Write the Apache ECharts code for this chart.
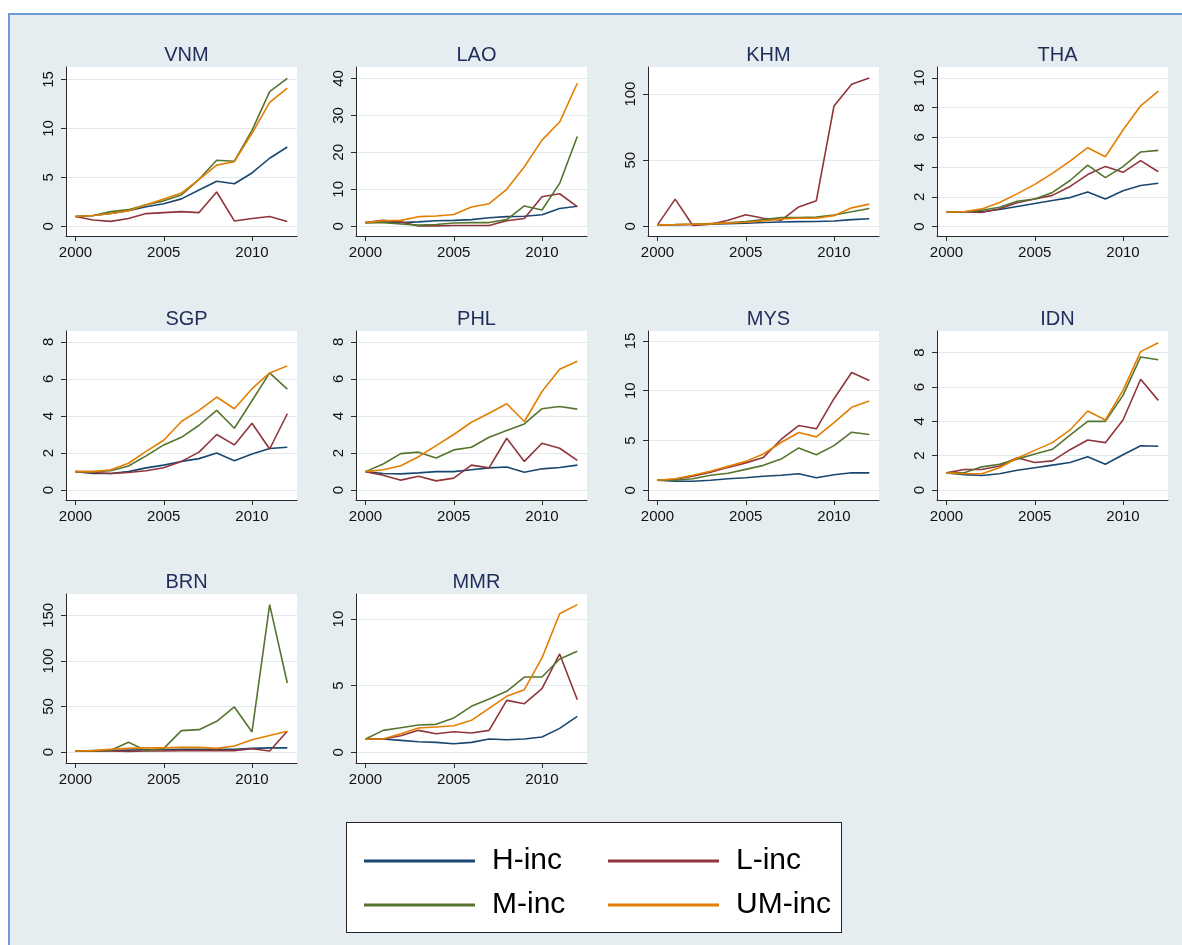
<!DOCTYPE html>
<html><head><meta charset="utf-8">
<script src="https://cdn.jsdelivr.net/npm/echarts@6/dist/echarts.min.js"></script>
<style>
html,body{margin:0;padding:0;background:#fff;width:1182px;height:945px;overflow:hidden;}
#frame{position:absolute;left:8px;top:13px;width:1200px;height:960px;background:#e6edf0;border:2px solid #6b9bd8;box-sizing:border-box;}
#legbox{position:absolute;left:346px;top:822px;width:496px;height:111px;background:#fff;border:1.5px solid #222;box-sizing:border-box;}
#chart{position:absolute;left:0;top:0;width:1182px;height:945px;}
</style></head><body>
<div id="frame"></div><div id="legbox"></div><div id="chart"></div>
<script>
const years = [2000,2001,2002,2003,2004,2005,2006,2007,2008,2009,2010,2011,2012];
const countries = ['VNM','LAO','KHM','THA','SGP','PHL','MYS','IDN','BRN','MMR'];
const groups = ['H-inc','L-inc','M-inc','UM-inc'];
const xTicks = [2000,2005,2010];

const VNM_H  = [1,1.1,1.3,1.6,2.0,2.3,2.8,3.7,4.6,4.35,5.45,6.95,8.1];
const VNM_L  = [1,0.65,0.5,0.8,1.3,1.4,1.5,1.4,3.5,0.55,0.8,1.0,0.5];
const VNM_M  = [1,1.1,1.5,1.7,2.2,2.6,3.2,4.8,6.75,6.65,9.8,13.75,15.1];
const VNM_UM = [1,1.1,1.3,1.6,2.2,2.8,3.4,4.8,6.25,6.6,9.5,12.65,14.1];

const LAO_H  = [1,1.2,1.0,1.2,1.5,1.6,1.8,2.3,2.6,2.7,3.1,4.8,5.4];
const LAO_L  = [1,1.6,1.2,0.1,0.1,0.2,0.2,0.2,1.5,2.1,8.0,8.8,5.3];
const LAO_M  = [1,1.0,0.6,0.3,0.5,0.9,1.0,1.0,1.8,5.5,4.4,11.6,24.3];
const LAO_UM = [1,1.5,1.6,2.6,2.8,3.2,5.2,6.1,10.0,16.1,23.3,28.2,38.7];

const KHM_H  = [1,1.1,1.3,1.5,2.0,2.3,2.8,3.2,3.5,3.6,4.0,5.0,5.7];
const KHM_L  = [1,20.5,0.5,1.5,4.5,8.7,6.0,4.5,14.6,19.3,91.0,107.5,112.2];
const KHM_M  = [1,1.2,1.5,2.0,2.5,3.5,5.0,6.5,6.5,7.0,8.5,11.0,13.4];
const KHM_UM = [1,1.2,1.5,1.8,2.5,3.0,4.0,5.5,6.0,6.0,8.0,13.9,16.7];

const THA_H  = [1,1.0,1.0,1.15,1.35,1.55,1.75,1.95,2.32,1.85,2.41,2.76,2.92];
const THA_L  = [1,1.0,0.95,1.2,1.6,1.85,2.1,2.7,3.5,4.05,3.65,4.44,3.69];
const THA_M  = [1,1.0,1.1,1.3,1.7,1.85,2.3,3.1,4.14,3.29,4.03,5.02,5.13];
const THA_UM = [1,1.0,1.19,1.62,2.2,2.84,3.58,4.41,5.31,4.7,6.5,8.13,9.12];

const SGP_H  = [1,0.9,0.9,1.0,1.2,1.35,1.55,1.7,2.0,1.59,1.95,2.25,2.31];
const SGP_L  = [1,0.95,0.9,0.95,1.05,1.21,1.55,2.05,3.0,2.44,3.61,2.22,4.12];
const SGP_M  = [1,1.0,1.05,1.3,1.85,2.44,2.85,3.5,4.3,3.34,4.82,6.32,5.45];
const SGP_UM = [1,1.0,1.1,1.45,2.09,2.69,3.7,4.3,5.02,4.39,5.47,6.32,6.7];

const PHL_H  = [1,0.9,0.88,0.93,1.0,1.0,1.1,1.2,1.25,0.97,1.15,1.22,1.35];
const PHL_L  = [1,0.8,0.54,0.75,0.5,0.65,1.35,1.2,2.8,1.55,2.53,2.26,1.61];
const PHL_M  = [1,1.41,1.97,2.05,1.73,2.17,2.31,2.85,3.21,3.57,4.39,4.51,4.37];
const PHL_UM = [1,1.1,1.32,1.8,2.4,3.0,3.66,4.15,4.66,3.7,5.32,6.52,6.95];

const MYS_H  = [1,0.9,0.9,1.0,1.15,1.25,1.4,1.5,1.65,1.25,1.55,1.75,1.75];
const MYS_L  = [1,1.1,1.4,1.8,2.3,2.75,3.3,5.1,6.5,6.17,9.2,11.83,11.02];
const MYS_M  = [1,1.0,1.15,1.5,1.7,2.1,2.5,3.13,4.25,3.57,4.48,5.83,5.6];
const MYS_UM = [1,1.15,1.5,1.9,2.4,2.9,3.64,4.8,5.8,5.36,6.8,8.33,8.97];

const IDN_H  = [1,0.9,0.85,0.95,1.15,1.3,1.45,1.6,1.94,1.5,2.05,2.58,2.55];
const IDN_L  = [1,1.2,1.2,1.4,1.88,1.6,1.7,2.35,2.91,2.76,4.08,6.45,5.22];
const IDN_M  = [1,1.0,1.35,1.5,1.8,2.1,2.37,3.2,4.0,4.0,5.51,7.75,7.59];
const IDN_UM = [1,0.95,0.95,1.3,1.85,2.31,2.76,3.5,4.6,4.08,5.8,8.06,8.58];

const BRN_H  = [1,1.2,1.5,2.0,2.5,2.5,3.0,3.0,3.0,3.0,4.0,4.5,4.5];
const BRN_L  = [1,1.0,1.0,0.5,1.0,1.0,1.5,1.5,1.5,1.5,3.5,1.0,22.7];
const BRN_M  = [1,1.5,2.0,10.6,1.5,4.0,23.4,24.5,33.7,49.4,22.0,161.7,75.7];
const BRN_UM = [1,1.5,3.0,4.0,4.5,4.5,5.0,5.0,4.0,6.5,13.5,18.0,22.7];

const MMR_H  = [1,1.0,0.9,0.8,0.75,0.65,0.75,1.0,0.95,1.0,1.15,1.8,2.7];
const MMR_L  = [1,1.0,1.25,1.65,1.4,1.55,1.45,1.65,3.9,3.65,4.78,7.38,3.95];
const MMR_M  = [1,1.65,1.85,2.05,2.1,2.58,3.45,4.0,4.58,5.65,5.65,7.0,7.58];
const MMR_UM = [1,1.0,1.4,1.83,1.9,2.0,2.4,3.3,4.2,4.7,7.08,10.4,11.08];

const VNM_TICKS = [0,5,10,15];
const LAO_TICKS = [0,10,20,30,40];
const KHM_TICKS = [0,50,100];
const THA_TICKS = [0,2,4,6,8,10];
const SGP_TICKS = [0,2,4,6,8];
const PHL_TICKS = [0,2,4,6,8];
const MYS_TICKS = [0,5,10,15];
const IDN_TICKS = [0,2,4,6,8];
const BRN_TICKS = [0,50,100,150];
const MMR_TICKS = [0,5,10];

const seriesData = {
  VNM:[VNM_H,VNM_L,VNM_M,VNM_UM], LAO:[LAO_H,LAO_L,LAO_M,LAO_UM],
  KHM:[KHM_H,KHM_L,KHM_M,KHM_UM], THA:[THA_H,THA_L,THA_M,THA_UM],
  SGP:[SGP_H,SGP_L,SGP_M,SGP_UM], PHL:[PHL_H,PHL_L,PHL_M,PHL_UM],
  MYS:[MYS_H,MYS_L,MYS_M,MYS_UM], IDN:[IDN_H,IDN_L,IDN_M,IDN_UM],
  BRN:[BRN_H,BRN_L,BRN_M,BRN_UM], MMR:[MMR_H,MMR_L,MMR_M,MMR_UM]
};
const tickData = {VNM:VNM_TICKS,LAO:LAO_TICKS,KHM:KHM_TICKS,THA:THA_TICKS,SGP:SGP_TICKS,
  PHL:PHL_TICKS,MYS:MYS_TICKS,IDN:IDN_TICKS,BRN:BRN_TICKS,MMR:MMR_TICKS};

// layout (pixels / axis extents)
const colLeft = [66,356,648,937];
const rowTop = [67,331,594];
const gridW = 231, gridH = 169;
const yRange = {
  VNM:[-0.99,16.27], LAO:[-2.63,43.1], KHM:[-7.4,120.5], THA:[-0.635,10.74],
  SGP:[-0.53,8.58], PHL:[-0.53,8.58], MYS:[-0.98,16.0], IDN:[-0.58,9.26],
  BRN:[-12.1,173.4], MMR:[-0.8,11.88]
};
const colors = ['#1a476f','#90353b','#55752f','#e37e00'];
const FONT = "'Liberation Sans', Arial, sans-serif";
const axisColor = '#2b2b2b';

const grids = [], xAxes = [], yAxes = [], series = [], titles = [];
countries.forEach((c, i) => {
  const col = i % 4, row = Math.floor(i / 4);
  const left = colLeft[col], top = rowTop[row];
  grids.push({left:left, top:top, width:gridW, height:gridH, show:true,
    backgroundColor:'#ffffff', borderWidth:0, containLabel:false});
  titles.push({text:c, left:left + gridW/2, top:top - 27, textAlign:'center',
    textStyle:{fontFamily:FONT, fontSize:20, fontWeight:'normal', color:'#1f2d5a'}});
  xAxes.push({type:'value', gridIndex:i, min:1999.46, max:2012.55,
    axisLine:{show:true, onZero:false, lineStyle:{color:axisColor, width:1}},
    axisTick:{show:true, length:5, customValues:xTicks, lineStyle:{color:axisColor}},
    axisLabel:{customValues:xTicks, margin:9, fontFamily:FONT, fontSize:15, color:'#111',
      formatter: v => String(v)},
    splitLine:{show:false}});
  yAxes.push({type:'value', gridIndex:i, min:yRange[c][0], max:yRange[c][1],
    axisLine:{show:true, onZero:false, lineStyle:{color:axisColor, width:1}},
    axisTick:{show:true, length:5, customValues:tickData[c], lineStyle:{color:axisColor}},
    axisLabel:{customValues:tickData[c], rotate:90, margin:10, fontFamily:FONT, fontSize:15, color:'#111',
      formatter: v => String(v)},
    splitLine:{show:true, lineStyle:{color:'#e2e9ed', width:1.2}}});
  seriesData[c].forEach((arr, g) => {
    series.push({type:'line', name:groups[g], xAxisIndex:i, yAxisIndex:i,
      data: years.map((y, k) => [y, arr[k]]),
      symbol:'none', smooth:false, color:colors[g],
      lineStyle:{color:colors[g], width:1.6}, emphasis:{disabled:true}, animation:false});
  });
});

const legendText = {fontFamily:FONT, fontSize:30, color:'#000', padding:[0,0,0,12]};
const option = {
  backgroundColor:'transparent',
  animation:false,
  title:titles,
  grid:grids, xAxis:xAxes, yAxis:yAxes, series:series,
  legend:[
    {left:359, top:839, orient:'vertical', data:['H-inc','M-inc'], icon:'rect',
     itemWidth:111, itemHeight:3, itemGap:10, textStyle:Object.assign({}, legendText, {lineHeight:34}), selectedMode:false},
    {left:603, top:839, orient:'vertical', data:['L-inc','UM-inc'], icon:'rect',
     itemWidth:111, itemHeight:3, itemGap:10, textStyle:Object.assign({}, legendText, {lineHeight:34}), selectedMode:false}
  ]
};
const chart = echarts.init(document.getElementById('chart'), null, {renderer:'canvas'});
chart.setOption(option);
</script>
</body></html>
